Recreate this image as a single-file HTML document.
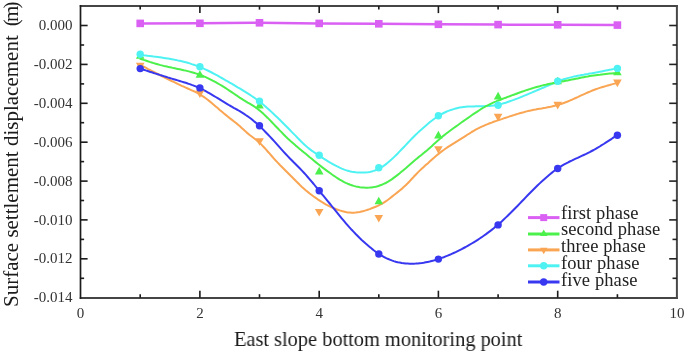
<!DOCTYPE html>
<html><head><meta charset="utf-8"><style>
html,body{margin:0;padding:0;background:#fff;width:685px;height:353px;overflow:hidden}
svg{display:block;will-change:transform}
.tk{font-family:"Liberation Serif",serif;font-size:15px;fill:#333}
.tt{font-family:"Liberation Serif",serif;font-size:21px;fill:#1a1a1a}
.lg{font-family:"Liberation Serif",serif;font-size:18.5px;fill:#222;letter-spacing:0.1px}
</style></head><body>
<svg width="685" height="353" viewBox="0 0 685 353">
<defs><filter id="soft" x="-2%" y="-2%" width="104%" height="104%"><feGaussianBlur stdDeviation="0.3"/></filter></defs>
<g filter="url(#soft)">
<path d="M140.2,23.4 L199.9,23.3 L259.5,22.8 L319.2,23.4 L378.8,23.8 L438.4,24.3 L498.1,24.6 L557.7,24.8 L617.4,25.1" fill="none" stroke="#DA60F4" stroke-width="2.5"/>
<path d="M139.7,64.5 L141.7,65.6 L143.7,66.6 L145.7,67.7 L147.7,68.8 L149.7,69.8 L151.7,70.9 L153.7,71.9 L155.7,73.0 L157.7,74.0 L159.7,75.0 L161.7,76.0 L163.7,77.0 L165.7,78.0 L167.7,79.0 L169.7,80.0 L171.7,81.0 L173.7,81.9 L175.7,82.9 L177.7,83.9 L179.7,84.8 L181.7,85.8 L183.7,86.7 L185.7,87.6 L187.7,88.5 L189.7,89.4 L191.7,90.3 L193.7,91.2 L195.7,92.2 L197.7,93.2 L199.7,94.4 L201.7,95.6 L203.7,96.9 L205.7,98.3 L207.7,99.8 L209.7,101.4 L211.7,103.0 L213.7,104.7 L215.7,106.4 L217.7,108.1 L219.7,109.9 L221.7,111.6 L223.7,113.3 L225.7,114.9 L227.7,116.5 L229.7,118.1 L231.7,119.6 L233.7,121.2 L235.7,122.8 L237.7,124.4 L239.7,126.1 L241.7,127.9 L243.7,129.7 L245.7,131.6 L247.7,133.4 L249.7,135.0 L251.7,136.5 L253.7,138.0 L255.7,139.5 L257.7,141.1 L259.7,142.9 L261.7,144.9 L263.7,147.0 L265.7,149.2 L267.7,151.5 L269.7,153.7 L271.7,156.0 L273.7,158.3 L275.7,160.5 L277.7,162.6 L279.7,164.7 L281.7,166.7 L283.7,168.7 L285.7,170.7 L287.7,172.7 L289.7,174.7 L291.7,176.7 L293.7,178.7 L295.7,180.8 L297.7,182.8 L299.7,184.8 L301.7,186.7 L303.7,188.5 L305.7,190.3 L307.7,191.9 L309.7,193.5 L311.7,195.0 L313.7,196.5 L315.7,197.9 L317.7,199.3 L319.7,200.6 L321.7,201.9 L323.7,203.1 L325.7,204.3 L327.7,205.3 L329.7,206.4 L331.7,207.3 L333.7,208.2 L335.7,209.0 L337.7,209.7 L339.7,210.4 L341.7,211.0 L343.7,211.5 L345.7,212.0 L347.7,212.4 L349.7,212.6 L351.7,212.8 L353.7,212.7 L355.7,212.6 L357.7,212.3 L359.7,212.0 L361.7,211.5 L363.7,211.0 L365.7,210.4 L367.7,209.7 L369.7,209.1 L371.7,208.3 L373.7,207.5 L375.7,206.7 L377.7,205.9 L379.7,204.9 L381.7,203.9 L383.7,202.7 L385.7,201.4 L387.7,200.0 L389.7,198.5 L391.7,196.9 L393.7,195.3 L395.7,193.7 L397.7,192.1 L399.7,190.5 L401.7,188.9 L403.7,187.1 L405.7,185.3 L407.7,183.3 L409.7,181.2 L411.7,179.0 L413.7,176.8 L415.7,174.7 L417.7,172.6 L419.7,170.6 L421.7,168.7 L423.7,166.9 L425.7,165.1 L427.7,163.4 L429.7,161.6 L431.7,159.8 L433.7,158.0 L435.7,156.3 L437.7,154.6 L439.7,153.0 L441.7,151.4 L443.7,150.0 L445.7,148.5 L447.7,147.2 L449.7,145.9 L451.7,144.6 L453.7,143.3 L455.7,142.1 L457.7,140.9 L459.7,139.6 L461.7,138.3 L463.7,137.1 L465.7,135.8 L467.7,134.5 L469.7,133.3 L471.7,132.0 L473.7,130.9 L475.7,129.7 L477.7,128.7 L479.7,127.7 L481.7,126.7 L483.7,125.8 L485.7,124.9 L487.7,124.1 L489.7,123.3 L491.7,122.6 L493.7,121.8 L495.7,121.1 L497.7,120.4 L499.7,119.7 L501.7,119.1 L503.7,118.4 L505.7,117.7 L507.7,117.1 L509.7,116.4 L511.7,115.8 L513.7,115.1 L515.7,114.5 L517.7,113.9 L519.7,113.3 L521.7,112.7 L523.7,112.2 L525.7,111.6 L527.7,111.1 L529.7,110.7 L531.7,110.3 L533.7,109.8 L535.7,109.5 L537.7,109.1 L539.7,108.7 L541.7,108.4 L543.7,108.0 L545.7,107.7 L547.7,107.3 L549.7,106.9 L551.7,106.5 L553.7,106.0 L555.7,105.5 L557.7,105.0 L559.7,104.4 L561.7,103.7 L563.7,103.0 L565.7,102.3 L567.7,101.5 L569.7,100.6 L571.7,99.8 L573.7,98.9 L575.7,98.0 L577.7,97.1 L579.7,96.1 L581.7,95.2 L583.7,94.3 L585.7,93.4 L587.7,92.5 L589.7,91.7 L591.7,90.8 L593.7,90.0 L595.7,89.3 L597.7,88.6 L599.7,87.9 L601.7,87.3 L603.7,86.7 L605.7,86.1 L607.7,85.5 L609.7,85.0 L611.7,84.4 L613.7,83.9 L615.7,83.4 L617.3,83.0" fill="none" stroke="#FAA552" stroke-width="2.0" stroke-linejoin="round"/>
<path d="M139.7,54.7 L141.7,54.9 L143.7,55.2 L145.7,55.4 L147.7,55.7 L149.7,55.9 L151.7,56.2 L153.7,56.5 L155.7,56.7 L157.7,57.0 L159.7,57.3 L161.7,57.6 L163.7,57.9 L165.7,58.2 L167.7,58.5 L169.7,58.8 L171.7,59.2 L173.7,59.6 L175.7,59.9 L177.7,60.4 L179.7,60.8 L181.7,61.3 L183.7,61.8 L185.7,62.3 L187.7,62.8 L189.7,63.4 L191.7,64.1 L193.7,64.7 L195.7,65.4 L197.7,66.2 L199.7,67.0 L201.7,67.8 L203.7,68.7 L205.7,69.6 L207.7,70.5 L209.7,71.5 L211.7,72.5 L213.7,73.6 L215.7,74.7 L217.7,75.7 L219.7,76.9 L221.7,78.0 L223.7,79.1 L225.7,80.3 L227.7,81.4 L229.7,82.6 L231.7,83.7 L233.7,84.9 L235.7,86.1 L237.7,87.3 L239.7,88.4 L241.7,89.6 L243.7,90.9 L245.7,92.1 L247.7,93.4 L249.7,94.7 L251.7,96.0 L253.7,97.3 L255.7,98.8 L257.7,100.2 L259.7,101.7 L261.7,103.3 L263.7,105.0 L265.7,106.7 L267.7,108.4 L269.7,110.2 L271.7,112.1 L273.7,114.0 L275.7,115.9 L277.7,117.8 L279.7,119.8 L281.7,121.8 L283.7,123.8 L285.7,125.8 L287.7,127.8 L289.7,129.8 L291.7,131.9 L293.7,133.9 L295.7,135.9 L297.7,138.0 L299.7,140.0 L301.7,142.0 L303.7,143.9 L305.7,145.8 L307.7,147.5 L309.7,149.1 L311.7,150.6 L313.7,152.0 L315.7,153.4 L317.7,154.7 L319.7,156.0 L321.7,157.3 L323.7,158.6 L325.7,159.8 L327.7,161.1 L329.7,162.3 L331.7,163.5 L333.7,164.6 L335.7,165.7 L337.7,166.7 L339.7,167.7 L341.7,168.6 L343.7,169.4 L345.7,170.1 L347.7,170.7 L349.7,171.3 L351.7,171.7 L353.7,172.0 L355.7,172.3 L357.7,172.4 L359.7,172.5 L361.7,172.6 L363.7,172.5 L365.7,172.4 L367.7,172.2 L369.7,171.9 L371.7,171.5 L373.7,170.9 L375.7,170.2 L377.7,169.4 L379.7,168.4 L381.7,167.2 L383.7,165.9 L385.7,164.4 L387.7,162.8 L389.7,161.1 L391.7,159.3 L393.7,157.4 L395.7,155.5 L397.7,153.5 L399.7,151.4 L401.7,149.3 L403.7,147.2 L405.7,145.1 L407.7,143.0 L409.7,140.9 L411.7,138.8 L413.7,136.8 L415.7,134.8 L417.7,132.9 L419.7,131.0 L421.7,129.2 L423.7,127.4 L425.7,125.7 L427.7,124.0 L429.7,122.3 L431.7,120.7 L433.7,119.2 L435.7,117.8 L437.7,116.4 L439.7,115.2 L441.7,114.0 L443.7,113.0 L445.7,112.0 L447.7,111.1 L449.7,110.4 L451.7,109.7 L453.7,109.1 L455.7,108.5 L457.7,108.0 L459.7,107.6 L461.7,107.3 L463.7,107.0 L465.7,106.8 L467.7,106.6 L469.7,106.5 L471.7,106.4 L473.7,106.4 L475.7,106.3 L477.7,106.3 L479.7,106.3 L481.7,106.2 L483.7,106.2 L485.7,106.1 L487.7,106.1 L489.7,105.9 L491.7,105.8 L493.7,105.5 L495.7,105.2 L497.7,104.9 L499.7,104.4 L501.7,103.9 L503.7,103.3 L505.7,102.7 L507.7,102.0 L509.7,101.3 L511.7,100.6 L513.7,99.9 L515.7,99.1 L517.7,98.4 L519.7,97.6 L521.7,96.8 L523.7,95.9 L525.7,95.1 L527.7,94.3 L529.7,93.4 L531.7,92.6 L533.7,91.7 L535.7,90.9 L537.7,90.0 L539.7,89.2 L541.7,88.3 L543.7,87.5 L545.7,86.6 L547.7,85.7 L549.7,84.9 L551.7,84.0 L553.7,83.1 L555.7,82.3 L557.7,81.5 L559.7,80.7 L561.7,80.0 L563.7,79.3 L565.7,78.7 L567.7,78.1 L569.7,77.6 L571.7,77.1 L573.7,76.6 L575.7,76.2 L577.7,75.8 L579.7,75.4 L581.7,75.0 L583.7,74.7 L585.7,74.3 L587.7,74.0 L589.7,73.6 L591.7,73.3 L593.7,72.9 L595.7,72.6 L597.7,72.2 L599.7,71.8 L601.7,71.4 L603.7,71.0 L605.7,70.6 L607.7,70.2 L609.7,69.8 L611.7,69.4 L613.7,69.0 L615.7,68.5 L617.3,68.2" fill="none" stroke="#50F2F2" stroke-width="2.0" stroke-linejoin="round"/>
<path d="M139.7,58.5 L141.7,59.2 L143.7,59.9 L145.7,60.5 L147.7,61.2 L149.7,61.9 L151.7,62.5 L153.7,63.1 L155.7,63.7 L157.7,64.3 L159.7,64.9 L161.7,65.4 L163.7,65.9 L165.7,66.3 L167.7,66.8 L169.7,67.2 L171.7,67.6 L173.7,68.1 L175.7,68.5 L177.7,68.9 L179.7,69.3 L181.7,69.7 L183.7,70.2 L185.7,70.6 L187.7,71.1 L189.7,71.6 L191.7,72.2 L193.7,72.8 L195.7,73.4 L197.7,74.0 L199.7,74.8 L201.7,75.5 L203.7,76.3 L205.7,77.2 L207.7,78.1 L209.7,79.1 L211.7,80.1 L213.7,81.1 L215.7,82.2 L217.7,83.3 L219.7,84.5 L221.7,85.7 L223.7,86.9 L225.7,88.2 L227.7,89.5 L229.7,90.8 L231.7,92.1 L233.7,93.5 L235.7,94.9 L237.7,96.2 L239.7,97.6 L241.7,98.9 L243.7,100.2 L245.7,101.4 L247.7,102.6 L249.7,103.7 L251.7,104.9 L253.7,106.2 L255.7,107.5 L257.7,109.0 L259.7,110.6 L261.7,112.3 L263.7,114.1 L265.7,116.0 L267.7,117.9 L269.7,119.9 L271.7,122.0 L273.7,124.1 L275.7,126.2 L277.7,128.3 L279.7,130.4 L281.7,132.4 L283.7,134.5 L285.7,136.5 L287.7,138.4 L289.7,140.2 L291.7,142.1 L293.7,143.8 L295.7,145.6 L297.7,147.2 L299.7,148.9 L301.7,150.6 L303.7,152.2 L305.7,153.8 L307.7,155.5 L309.7,157.2 L311.7,158.8 L313.7,160.5 L315.7,162.1 L317.7,163.7 L319.7,165.3 L321.7,166.9 L323.7,168.4 L325.7,169.9 L327.7,171.4 L329.7,172.8 L331.7,174.3 L333.7,175.7 L335.7,177.0 L337.7,178.3 L339.7,179.6 L341.7,180.7 L343.7,181.8 L345.7,182.8 L347.7,183.7 L349.7,184.5 L351.7,185.2 L353.7,185.9 L355.7,186.4 L357.7,186.8 L359.7,187.2 L361.7,187.5 L363.7,187.6 L365.7,187.7 L367.7,187.7 L369.7,187.6 L371.7,187.4 L373.7,187.1 L375.7,186.7 L377.7,186.2 L379.7,185.5 L381.7,184.8 L383.7,183.9 L385.7,183.0 L387.7,181.9 L389.7,180.7 L391.7,179.4 L393.7,177.9 L395.7,176.4 L397.7,174.9 L399.7,173.3 L401.7,171.6 L403.7,169.9 L405.7,168.2 L407.7,166.4 L409.7,164.7 L411.7,163.0 L413.7,161.3 L415.7,159.6 L417.7,157.9 L419.7,156.3 L421.7,154.7 L423.7,153.0 L425.7,151.4 L427.7,149.7 L429.7,147.9 L431.7,146.2 L433.7,144.3 L435.7,142.5 L437.7,140.7 L439.7,139.0 L441.7,137.3 L443.7,135.6 L445.7,134.0 L447.7,132.5 L449.7,131.0 L451.7,129.5 L453.7,128.0 L455.7,126.6 L457.7,125.2 L459.7,123.7 L461.7,122.3 L463.7,120.9 L465.7,119.5 L467.7,118.1 L469.7,116.7 L471.7,115.3 L473.7,113.9 L475.7,112.6 L477.7,111.3 L479.7,110.0 L481.7,108.7 L483.7,107.5 L485.7,106.3 L487.7,105.3 L489.7,104.3 L491.7,103.3 L493.7,102.4 L495.7,101.6 L497.7,100.7 L499.7,100.0 L501.7,99.2 L503.7,98.4 L505.7,97.7 L507.7,96.9 L509.7,96.2 L511.7,95.4 L513.7,94.7 L515.7,94.0 L517.7,93.2 L519.7,92.5 L521.7,91.8 L523.7,91.1 L525.7,90.4 L527.7,89.8 L529.7,89.1 L531.7,88.5 L533.7,87.9 L535.7,87.3 L537.7,86.7 L539.7,86.2 L541.7,85.6 L543.7,85.1 L545.7,84.7 L547.7,84.2 L549.7,83.8 L551.7,83.4 L553.7,83.0 L555.7,82.7 L557.7,82.3 L559.7,82.0 L561.7,81.6 L563.7,81.2 L565.7,80.8 L567.7,80.4 L569.7,80.0 L571.7,79.6 L573.7,79.2 L575.7,78.8 L577.7,78.4 L579.7,78.0 L581.7,77.6 L583.7,77.2 L585.7,76.8 L587.7,76.5 L589.7,76.1 L591.7,75.8 L593.7,75.5 L595.7,75.2 L597.7,74.9 L599.7,74.7 L601.7,74.4 L603.7,74.2 L605.7,74.0 L607.7,73.8 L609.7,73.6 L611.7,73.4 L613.7,73.2 L615.7,73.1 L617.7,72.9 L617.8,72.9" fill="none" stroke="#4CF04C" stroke-width="2.0" stroke-linejoin="round"/>
<path d="M139.7,68.4 L141.7,69.1 L143.7,69.7 L145.7,70.4 L147.7,71.0 L149.7,71.7 L151.7,72.3 L153.7,73.0 L155.7,73.6 L157.7,74.2 L159.7,74.9 L161.7,75.5 L163.7,76.1 L165.7,76.7 L167.7,77.4 L169.7,78.0 L171.7,78.6 L173.7,79.2 L175.7,79.8 L177.7,80.4 L179.7,81.0 L181.7,81.6 L183.7,82.2 L185.7,82.8 L187.7,83.5 L189.7,84.1 L191.7,84.9 L193.7,85.6 L195.7,86.4 L197.7,87.2 L199.7,88.1 L201.7,89.1 L203.7,90.1 L205.7,91.2 L207.7,92.3 L209.7,93.4 L211.7,94.6 L213.7,95.8 L215.7,97.0 L217.7,98.2 L219.7,99.4 L221.7,100.7 L223.7,101.9 L225.7,103.1 L227.7,104.3 L229.7,105.5 L231.7,106.6 L233.7,107.8 L235.7,108.9 L237.7,110.0 L239.7,111.2 L241.7,112.4 L243.7,113.6 L245.7,115.0 L247.7,116.3 L249.7,117.8 L251.7,119.3 L253.7,121.0 L255.7,122.6 L257.7,124.4 L259.7,126.2 L261.7,128.1 L263.7,130.1 L265.7,132.2 L267.7,134.3 L269.7,136.4 L271.7,138.5 L273.7,140.7 L275.7,142.9 L277.7,145.2 L279.7,147.4 L281.7,149.6 L283.7,151.8 L285.7,154.0 L287.7,156.1 L289.7,158.2 L291.7,160.2 L293.7,162.3 L295.7,164.3 L297.7,166.3 L299.7,168.3 L301.7,170.4 L303.7,172.5 L305.7,174.7 L307.7,177.0 L309.7,179.3 L311.7,181.7 L313.7,184.0 L315.7,186.5 L317.7,188.9 L319.7,191.3 L321.7,193.8 L323.7,196.2 L325.7,198.6 L327.7,201.1 L329.7,203.5 L331.7,206.0 L333.7,208.4 L335.7,210.9 L337.7,213.4 L339.7,215.9 L341.7,218.3 L343.7,220.7 L345.7,223.1 L347.7,225.4 L349.7,227.6 L351.7,229.8 L353.7,231.9 L355.7,234.0 L357.7,236.0 L359.7,238.0 L361.7,239.9 L363.7,241.7 L365.7,243.5 L367.7,245.2 L369.7,246.9 L371.7,248.6 L373.7,250.2 L375.7,251.7 L377.7,253.1 L379.7,254.5 L381.7,255.7 L383.7,256.8 L385.7,257.9 L387.7,258.8 L389.7,259.6 L391.7,260.4 L393.7,261.1 L395.7,261.7 L397.7,262.2 L399.7,262.6 L401.7,263.0 L403.7,263.2 L405.7,263.5 L407.7,263.6 L409.7,263.7 L411.7,263.7 L413.7,263.7 L415.7,263.6 L417.7,263.4 L419.7,263.2 L421.7,263.0 L423.7,262.7 L425.7,262.3 L427.7,261.9 L429.7,261.5 L431.7,261.0 L433.7,260.5 L435.7,259.9 L437.7,259.3 L439.7,258.6 L441.7,257.9 L443.7,257.2 L445.7,256.4 L447.7,255.6 L449.7,254.8 L451.7,253.9 L453.7,253.0 L455.7,252.1 L457.7,251.1 L459.7,250.1 L461.7,249.1 L463.7,248.0 L465.7,247.0 L467.7,245.8 L469.7,244.7 L471.7,243.5 L473.7,242.3 L475.7,241.1 L477.7,239.8 L479.7,238.5 L481.7,237.2 L483.7,235.8 L485.7,234.4 L487.7,232.9 L489.7,231.4 L491.7,229.9 L493.7,228.3 L495.7,226.6 L497.7,224.9 L499.7,223.2 L501.7,221.4 L503.7,219.5 L505.7,217.6 L507.7,215.7 L509.7,213.7 L511.7,211.8 L513.7,209.7 L515.7,207.7 L517.7,205.7 L519.7,203.6 L521.7,201.5 L523.7,199.5 L525.7,197.4 L527.7,195.3 L529.7,193.3 L531.7,191.3 L533.7,189.3 L535.7,187.3 L537.7,185.3 L539.7,183.4 L541.7,181.5 L543.7,179.7 L545.7,177.9 L547.7,176.2 L549.7,174.5 L551.7,172.9 L553.7,171.3 L555.7,169.8 L557.7,168.5 L559.7,167.1 L561.7,165.9 L563.7,164.7 L565.7,163.6 L567.7,162.6 L569.7,161.5 L571.7,160.6 L573.7,159.6 L575.7,158.7 L577.7,157.8 L579.7,156.8 L581.7,155.9 L583.7,155.0 L585.7,154.1 L587.7,153.1 L589.7,152.1 L591.7,151.0 L593.7,150.0 L595.7,148.8 L597.7,147.7 L599.7,146.5 L601.7,145.2 L603.7,144.0 L605.7,142.7 L607.7,141.4 L609.7,140.1 L611.7,138.8 L613.7,137.4 L615.7,136.1 L617.0,135.2" fill="none" stroke="#3737F0" stroke-width="2.0" stroke-linejoin="round"/>
<rect x="136.4" y="19.6" width="7.6" height="7.6" fill="#DA60F4"/>
<rect x="196.1" y="19.5" width="7.6" height="7.6" fill="#DA60F4"/>
<rect x="255.7" y="19.0" width="7.6" height="7.6" fill="#DA60F4"/>
<rect x="315.4" y="19.6" width="7.6" height="7.6" fill="#DA60F4"/>
<rect x="375.0" y="20.0" width="7.6" height="7.6" fill="#DA60F4"/>
<rect x="434.6" y="20.5" width="7.6" height="7.6" fill="#DA60F4"/>
<rect x="494.3" y="20.8" width="7.6" height="7.6" fill="#DA60F4"/>
<rect x="553.9" y="21.0" width="7.6" height="7.6" fill="#DA60F4"/>
<rect x="613.6" y="21.3" width="7.6" height="7.6" fill="#DA60F4"/>
<path d="M135.9,62.7 L144.5,62.7 L140.2,70.3 Z" fill="#FAA552"/>
<path d="M195.6,90.4 L204.2,90.4 L199.9,98.0 Z" fill="#FAA552"/>
<path d="M255.2,138.2 L263.8,138.2 L259.5,145.8 Z" fill="#FAA552"/>
<path d="M314.9,208.9 L323.5,208.9 L319.2,216.5 Z" fill="#FAA552"/>
<path d="M374.5,215.0 L383.1,215.0 L378.8,222.6 Z" fill="#FAA552"/>
<path d="M434.1,146.2 L442.7,146.2 L438.4,153.8 Z" fill="#FAA552"/>
<path d="M493.8,113.8 L502.4,113.8 L498.1,121.4 Z" fill="#FAA552"/>
<path d="M553.4,101.8 L562.0,101.8 L557.7,109.4 Z" fill="#FAA552"/>
<path d="M613.1,79.6 L621.7,79.6 L617.4,87.2 Z" fill="#FAA552"/>
<path d="M140.2,51.2 L144.5,58.8 L135.9,58.8 Z" fill="#4CF04C"/>
<path d="M199.9,70.2 L204.2,77.8 L195.6,77.8 Z" fill="#4CF04C"/>
<path d="M259.5,101.0 L263.8,108.6 L255.2,108.6 Z" fill="#4CF04C"/>
<path d="M319.2,166.8 L323.5,174.4 L314.9,174.4 Z" fill="#4CF04C"/>
<path d="M378.8,196.7 L383.1,204.3 L374.5,204.3 Z" fill="#4CF04C"/>
<path d="M438.4,130.8 L442.7,138.4 L434.1,138.4 Z" fill="#4CF04C"/>
<path d="M498.1,91.8 L502.4,99.4 L493.8,99.4 Z" fill="#4CF04C"/>
<path d="M557.7,76.7 L562.0,84.3 L553.4,84.3 Z" fill="#4CF04C"/>
<path d="M617.4,67.7 L621.7,75.3 L613.1,75.3 Z" fill="#4CF04C"/>
<circle cx="140.2" cy="54.3" r="3.7" fill="#50F2F2"/>
<circle cx="199.9" cy="66.8" r="3.7" fill="#50F2F2"/>
<circle cx="259.5" cy="101.1" r="3.7" fill="#50F2F2"/>
<circle cx="319.2" cy="155.2" r="3.7" fill="#50F2F2"/>
<circle cx="378.8" cy="167.8" r="3.7" fill="#50F2F2"/>
<circle cx="438.4" cy="115.8" r="3.7" fill="#50F2F2"/>
<circle cx="498.1" cy="105.3" r="3.7" fill="#50F2F2"/>
<circle cx="557.7" cy="81.3" r="3.7" fill="#50F2F2"/>
<circle cx="617.4" cy="68.4" r="3.7" fill="#50F2F2"/>
<circle cx="140.2" cy="68.6" r="3.7" fill="#3737F0"/>
<circle cx="199.9" cy="87.9" r="3.7" fill="#3737F0"/>
<circle cx="259.5" cy="125.7" r="3.7" fill="#3737F0"/>
<circle cx="319.2" cy="190.7" r="3.7" fill="#3737F0"/>
<circle cx="378.8" cy="254.0" r="3.7" fill="#3737F0"/>
<circle cx="438.4" cy="259.1" r="3.7" fill="#3737F0"/>
<circle cx="498.1" cy="224.9" r="3.7" fill="#3737F0"/>
<circle cx="557.7" cy="168.5" r="3.7" fill="#3737F0"/>
<circle cx="617.4" cy="135.2" r="3.7" fill="#3737F0"/>
<path d="M79.8,6.1 H677.8 M79.8,297.9 H677.8" stroke="#444" stroke-width="2.0" fill="none"/><path d="M676.9,5.1 V298.9" stroke="#4a4a4a" stroke-width="2.0" fill="none"/><path d="M80.5,5.1 V298.9" stroke="#1a1a1a" stroke-width="1.7" fill="none"/>
<line x1="80.6" y1="25.5" x2="87.6" y2="25.5" stroke="#1a1a1a" stroke-width="1.6"/>
<line x1="677" y1="25.5" x2="669.2" y2="25.5" stroke="#222" stroke-width="1.6"/>
<line x1="80.6" y1="45.0" x2="84.1" y2="45.0" stroke="#1a1a1a" stroke-width="1.6"/>
<line x1="677" y1="45.0" x2="672.5" y2="45.0" stroke="#222" stroke-width="1.6"/>
<line x1="80.6" y1="64.4" x2="87.6" y2="64.4" stroke="#1a1a1a" stroke-width="1.6"/>
<line x1="677" y1="64.4" x2="669.2" y2="64.4" stroke="#222" stroke-width="1.6"/>
<line x1="80.6" y1="83.9" x2="84.1" y2="83.9" stroke="#1a1a1a" stroke-width="1.6"/>
<line x1="677" y1="83.9" x2="672.5" y2="83.9" stroke="#222" stroke-width="1.6"/>
<line x1="80.6" y1="103.3" x2="87.6" y2="103.3" stroke="#1a1a1a" stroke-width="1.6"/>
<line x1="677" y1="103.3" x2="669.2" y2="103.3" stroke="#222" stroke-width="1.6"/>
<line x1="80.6" y1="122.7" x2="84.1" y2="122.7" stroke="#1a1a1a" stroke-width="1.6"/>
<line x1="677" y1="122.7" x2="672.5" y2="122.7" stroke="#222" stroke-width="1.6"/>
<line x1="80.6" y1="142.2" x2="87.6" y2="142.2" stroke="#1a1a1a" stroke-width="1.6"/>
<line x1="677" y1="142.2" x2="669.2" y2="142.2" stroke="#222" stroke-width="1.6"/>
<line x1="80.6" y1="161.6" x2="84.1" y2="161.6" stroke="#1a1a1a" stroke-width="1.6"/>
<line x1="677" y1="161.6" x2="672.5" y2="161.6" stroke="#222" stroke-width="1.6"/>
<line x1="80.6" y1="181.1" x2="87.6" y2="181.1" stroke="#1a1a1a" stroke-width="1.6"/>
<line x1="677" y1="181.1" x2="669.2" y2="181.1" stroke="#222" stroke-width="1.6"/>
<line x1="80.6" y1="200.5" x2="84.1" y2="200.5" stroke="#1a1a1a" stroke-width="1.6"/>
<line x1="677" y1="200.5" x2="672.5" y2="200.5" stroke="#222" stroke-width="1.6"/>
<line x1="80.6" y1="219.9" x2="87.6" y2="219.9" stroke="#1a1a1a" stroke-width="1.6"/>
<line x1="677" y1="219.9" x2="669.2" y2="219.9" stroke="#222" stroke-width="1.6"/>
<line x1="80.6" y1="239.4" x2="84.1" y2="239.4" stroke="#1a1a1a" stroke-width="1.6"/>
<line x1="677" y1="239.4" x2="672.5" y2="239.4" stroke="#222" stroke-width="1.6"/>
<line x1="80.6" y1="258.8" x2="87.6" y2="258.8" stroke="#1a1a1a" stroke-width="1.6"/>
<line x1="677" y1="258.8" x2="669.2" y2="258.8" stroke="#222" stroke-width="1.6"/>
<line x1="80.6" y1="278.3" x2="84.1" y2="278.3" stroke="#1a1a1a" stroke-width="1.6"/>
<line x1="677" y1="278.3" x2="672.5" y2="278.3" stroke="#222" stroke-width="1.6"/>
<line x1="140.2" y1="297.7" x2="140.2" y2="294.2" stroke="#1a1a1a" stroke-width="1.6"/>
<line x1="140.2" y1="6.1" x2="140.2" y2="9.6" stroke="#1a1a1a" stroke-width="1.6"/>
<line x1="199.9" y1="297.7" x2="199.9" y2="290.7" stroke="#1a1a1a" stroke-width="1.6"/>
<line x1="199.9" y1="6.1" x2="199.9" y2="13.1" stroke="#1a1a1a" stroke-width="1.6"/>
<line x1="259.5" y1="297.7" x2="259.5" y2="294.2" stroke="#1a1a1a" stroke-width="1.6"/>
<line x1="259.5" y1="6.1" x2="259.5" y2="9.6" stroke="#1a1a1a" stroke-width="1.6"/>
<line x1="319.2" y1="297.7" x2="319.2" y2="290.7" stroke="#1a1a1a" stroke-width="1.6"/>
<line x1="319.2" y1="6.1" x2="319.2" y2="13.1" stroke="#1a1a1a" stroke-width="1.6"/>
<line x1="378.8" y1="297.7" x2="378.8" y2="294.2" stroke="#1a1a1a" stroke-width="1.6"/>
<line x1="378.8" y1="6.1" x2="378.8" y2="9.6" stroke="#1a1a1a" stroke-width="1.6"/>
<line x1="438.4" y1="297.7" x2="438.4" y2="290.7" stroke="#1a1a1a" stroke-width="1.6"/>
<line x1="438.4" y1="6.1" x2="438.4" y2="13.1" stroke="#1a1a1a" stroke-width="1.6"/>
<line x1="498.1" y1="297.7" x2="498.1" y2="294.2" stroke="#1a1a1a" stroke-width="1.6"/>
<line x1="498.1" y1="6.1" x2="498.1" y2="9.6" stroke="#1a1a1a" stroke-width="1.6"/>
<line x1="557.7" y1="297.7" x2="557.7" y2="290.7" stroke="#1a1a1a" stroke-width="1.6"/>
<line x1="557.7" y1="6.1" x2="557.7" y2="13.1" stroke="#1a1a1a" stroke-width="1.6"/>
<line x1="617.4" y1="297.7" x2="617.4" y2="294.2" stroke="#1a1a1a" stroke-width="1.6"/>
<line x1="617.4" y1="6.1" x2="617.4" y2="9.6" stroke="#1a1a1a" stroke-width="1.6"/>
<text x="72.5" y="30.1" text-anchor="end" class="tk">0.000</text>
<text x="72.5" y="69.0" text-anchor="end" class="tk">-0.002</text>
<text x="72.5" y="107.9" text-anchor="end" class="tk">-0.004</text>
<text x="72.5" y="146.8" text-anchor="end" class="tk">-0.006</text>
<text x="72.5" y="185.7" text-anchor="end" class="tk">-0.008</text>
<text x="72.5" y="224.5" text-anchor="end" class="tk">-0.010</text>
<text x="72.5" y="263.4" text-anchor="end" class="tk">-0.012</text>
<text x="72.5" y="302.3" text-anchor="end" class="tk">-0.014</text>
<text x="80.6" y="317.5" text-anchor="middle" class="tk">0</text>
<text x="199.9" y="317.5" text-anchor="middle" class="tk">2</text>
<text x="319.2" y="317.5" text-anchor="middle" class="tk">4</text>
<text x="438.4" y="317.5" text-anchor="middle" class="tk">6</text>
<text x="557.7" y="317.5" text-anchor="middle" class="tk">8</text>
<text x="677.0" y="317.5" text-anchor="middle" class="tk">10</text>
<text transform="translate(234,346) scale(0.97,1)" class="tt">East slope bottom monitoring point</text>
<text transform="translate(17.5,307) rotate(-90)" x="0" y="0" class="tt">Surface settlement displacement</text>
<text transform="translate(17.5,26.3) rotate(-90)" x="0" y="0" class="tt" letter-spacing="-2.8">(m)</text>
<line x1="528" y1="217.6" x2="559.5" y2="217.6" stroke="#DA60F4" stroke-width="3"/>
<rect x="540.2" y="214.1" width="7.0" height="7.0" fill="#DA60F4"/>
<text x="561" y="218.5" class="lg">first phase</text>
<line x1="528" y1="234.0" x2="559.5" y2="234.0" stroke="#4CF04C" stroke-width="3"/>
<path d="M543.7,229.6 L547.5,236.1 L540.0,236.1 Z" fill="#4CF04C"/>
<text x="561" y="235.4" class="lg">second phase</text>
<line x1="528" y1="249.9" x2="559.5" y2="249.9" stroke="#FAA552" stroke-width="3"/>
<path d="M540.0,247.8 L547.5,247.8 L543.7,254.3 Z" fill="#FAA552"/>
<text x="561" y="252.0" class="lg">three phase</text>
<line x1="528" y1="265.8" x2="559.5" y2="265.8" stroke="#50F2F2" stroke-width="3"/>
<circle cx="543.7" cy="265.8" r="3.7" fill="#50F2F2"/>
<text x="561" y="268.9" class="lg">four phase</text>
<line x1="528" y1="282.0" x2="559.5" y2="282.0" stroke="#3737F0" stroke-width="3"/>
<circle cx="543.7" cy="282.0" r="3.7" fill="#3737F0"/>
<text x="561" y="285.8" class="lg">five phase</text>
</g>
</svg>
</body></html>
